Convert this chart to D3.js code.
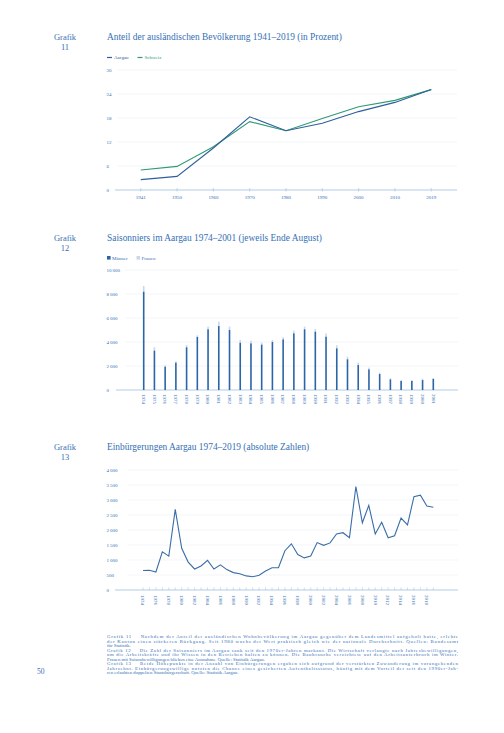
<!DOCTYPE html>
<html>
<head>
<meta charset="utf-8">
<script src="https://cdn.jsdelivr.net/npm/d3@7"></script>
<style>
  body { margin: 0; background: #fff; }
  svg { display: block; font-family: "Liberation Serif", "DejaVu Serif", serif; }
</style>
</head>
<body>
<svg id="page"></svg>
<script>
var width = 504,
    height = 733;

var blue = '#3570b5',
    axisCol = '#a9c5e2',
    gridCol = '#edf2f8';

// Grafik 11
var years11 = ['1941', '1950', '1960', '1970', '1980', '1990', '2000', '2010', '2019'];
var aargau = [2.6, 3.4, 10.5, 18.3, 14.8, 16.7, 19.6, 21.9, 25.1];
var schweiz = [5.0, 5.9, 10.8, 17.1, 14.8, 17.9, 20.8, 22.4, 25.1];
var ticks11 = [0, 6, 12, 18, 24, 30];

// Grafik 12
var years12 = d3.range(1974, 2002).map(String);
var maenner = [8190, 3280, 1940, 2280, 3560, 4420, 5060, 5330, 5000, 3940, 3890, 3780, 4000, 4220,
               4720, 5060, 4860, 4440, 3470, 2560, 2080, 1720, 1330, 890, 750, 750, 830, 920];
var frauen = [480, 280, 120, 110, 190, 140, 220, 360, 280, 230, 220, 160, 170, 170,
              220, 220, 220, 280, 250, 220, 200, 140, 110, 80, 80, 80, 110, 80];
var ticks12 = [0, 2000, 4000, 6000, 8000, 10000];

// Grafik 13
var years13 = d3.range(1974, 2020).map(String);
var einb = [650, 660, 600, 1270, 1130, 2690, 1390, 930, 700, 800, 990, 700, 840, 680, 580, 540,
            470, 440, 490, 630, 740, 740, 1310, 1540, 1180, 1070, 1130, 1580, 1490, 1570, 1870, 1910,
            1740, 3450, 2240, 2820, 1870, 2260, 1740, 1810, 2400, 2170, 3110, 3160, 2800, 2760];
var ticks13 = [0, 500, 1000, 1500, 2000, 2500, 3000, 3500, 4000];

var caption = [
  ['Grafik 11\u2003\u2002Nachdem der Anteil der ausländischen Wohnbevölkerung im Aargau gegenüber dem Landesmittel aufgeholt hatte, erlebte', true],
  ['der Kanton einen stärkeren Rückgang. Seit 1980 wuchs der Wert praktisch gleich wie der nationale Durchschnitt. Quellen: Bundesamt', true],
  ['für Statistik.', false],
  ['Grafik 12\u2003\u2002Die Zahl der Saisonniers im Aargau sank seit den 1970er-Jahren markant. Die Wirtschaft verlangte nach Jahresbewilligungen,', true],
  ['um die Arbeitskräfte und ihr Wissen in den Betrieben halten zu können. Die Baubranche verzichtete auf den Arbeitsunterbruch im Winter.', true],
  ['Frauen mit Saisonbewilligungen blieben eine Ausnahme. Quelle: Statistik Aargau.', false],
  ['Grafik 13\u2003\u2002Beide Höhepunkte in der Anzahl von Einbürgerungen ergaben sich aufgrund der verstärkten Zuwanderung im vorangehenden', true],
  ['Jahrzehnt. Einbürgerungswillige nutzten die Chance eines gesicherten Aufenthaltsstatus, häufig mit dem Vorteil der seit den 1990er-Jah-', true],
  ['ren erlaubten doppelten Staatsbürgerschaft. Quelle: Statistik Aargau.', false]
];

var fmt = function(d) { return d >= 1000 ? d3.format(',')(d).replace(',', '\u2009') : String(d); };

var svg = d3.select('#page')
    .attr('width', width)
    .attr('height', height);

function heading(y, num, title) {
  svg.append('text').text('Grafik')
    .attr('x', 65).attr('y', y)
    .attr('font-size', 8.5).attr('fill', blue)
    .style('text-anchor', 'middle');
  svg.append('text').text(num)
    .attr('x', 65).attr('y', y + 10)
    .attr('font-size', 8.5).attr('fill', blue)
    .style('text-anchor', 'middle');
  svg.append('text').text(title)
    .attr('x', 107).attr('y', y)
    .attr('font-size', 9.4).attr('fill', blue);
}

function yGrid(g, y, ticks, x0, x1) {
  g.selectAll('.grid').data(ticks.filter(function(d) { return d > 0; }))
    .enter().append('line')
    .attr('x1', x0).attr('x2', x1)
    .attr('y1', function(d) { return y(d); })
    .attr('y2', function(d) { return y(d); })
    .attr('stroke', gridCol).attr('stroke-width', 0.8);
  g.selectAll('.ylab').data(ticks)
    .enter().append('text')
    .text(fmt)
    .attr('x', 106.5)
    .attr('y', function(d) { return y(d) + 1.7; })
    .attr('font-size', 5).attr('fill', blue);
}

// ---------- Grafik 11 ----------
heading(40, '11', 'Anteil der ausländischen Bevölkerung 1941\u20132019 (in Prozent)');

var g11 = svg.append('g');
var x11 = d3.scalePoint().domain(years11).range([115, 457]).padding(0.71);
var y11 = d3.scaleLinear().domain([0, 30]).range([190, 70]);

yGrid(g11, y11, ticks11, 117, 457);

g11.append('line')
  .attr('x1', 115).attr('x2', 457).attr('y1', y11(0)).attr('y2', y11(0))
  .attr('stroke', axisCol).attr('stroke-width', 0.9);
g11.selectAll('.tk').data(years11).enter().append('line')
  .attr('x1', function(d) { return x11(d); }).attr('x2', function(d) { return x11(d); })
  .attr('y1', y11(0) - 2).attr('y2', y11(0) + 1.5)
  .attr('stroke', axisCol).attr('stroke-width', 0.7);
g11.selectAll('.xl').data(years11).enter().append('text')
  .text(function(d) { return d; })
  .attr('x', function(d) { return x11(d); })
  .attr('y', y11(0) + 9)
  .attr('font-size', 5).attr('fill', blue)
  .style('text-anchor', 'middle');

var line11 = d3.line()
  .x(function(d, i) { return x11(years11[i]); })
  .y(function(d) { return y11(d); });

g11.append('path').datum(schweiz)
  .attr('d', line11).attr('fill', 'none')
  .attr('stroke', '#2f9a73').attr('stroke-width', 1.1);
g11.append('path').datum(aargau)
  .attr('d', line11).attr('fill', 'none')
  .attr('stroke', '#2d5f9c').attr('stroke-width', 1.1);

var leg11 = [['Aargau', '#2d5f9c', 107], ['Schweiz', '#2f9a73', 137.5]];
leg11.forEach(function(l) {
  svg.append('line').attr('x1', l[2]).attr('x2', l[2] + 5)
    .attr('y1', 57.5).attr('y2', 57.5)
    .attr('stroke', l[1]).attr('stroke-width', 1.2);
  svg.append('text').text(l[0])
    .attr('x', l[2] + 7).attr('y', 59.3)
    .attr('font-size', 5).attr('fill', l[1]);
});

// ---------- Grafik 12 ----------
heading(241, '12', 'Saisonniers im Aargau 1974\u20132001 (jeweils Ende August)');

var g12 = svg.append('g');
var x12 = d3.scalePoint().domain(years12).range([143.7, 433.3]);
var y12 = d3.scaleLinear().domain([0, 10000]).range([390, 270]);

yGrid(g12, y12, ticks12, 125, 458);

g12.append('line')
  .attr('x1', 116).attr('x2', 458).attr('y1', y12(0)).attr('y2', y12(0))
  .attr('stroke', axisCol).attr('stroke-width', 0.9);

var bw = 1.6;
g12.selectAll('.fr').data(years12).enter().append('rect')
  .attr('x', function(d) { return x12(d) - bw / 2; })
  .attr('width', bw)
  .attr('y', function(d, i) { return y12(maenner[i] + frauen[i]); })
  .attr('height', function(d, i) { return y12(maenner[i]) - y12(maenner[i] + frauen[i]); })
  .attr('fill', '#c9d8ea');
g12.selectAll('.ma').data(years12).enter().append('rect')
  .attr('x', function(d) { return x12(d) - bw / 2; })
  .attr('width', bw)
  .attr('y', function(d, i) { return y12(maenner[i]); })
  .attr('height', function(d, i) { return y12(0) - y12(maenner[i]); })
  .attr('fill', '#2b65a8');

g12.selectAll('.xl').data(years12).enter().append('text')
  .text(function(d) { return d; })
  .attr('transform', function(d) { return 'translate(' + (x12(d) - 1.7) + ',' + (y12(0) + 4) + ') rotate(90)'; })
  .attr('font-size', 5).attr('fill', blue);

var leg12 = [['Männer', '#2b65a8', 107], ['Frauen', '#c9d8ea', 136.5]];
leg12.forEach(function(l) {
  svg.append('rect').attr('x', l[2]).attr('y', 256).attr('width', 3.6).attr('height', 3.6)
    .attr('fill', l[1]);
  svg.append('text').text(l[0])
    .attr('x', l[2] + 5).attr('y', 259.6)
    .attr('font-size', 5).attr('fill', blue);
});

// ---------- Grafik 13 ----------
heading(450, '13', 'Einbürgerungen Aargau 1974\u20132019 (absolute Zahlen)');

var g13 = svg.append('g');
var x13 = d3.scalePoint().domain(years13).range([143, 433.3]);
var y13 = d3.scaleLinear().domain([0, 4000]).range([590, 470]);

yGrid(g13, y13, ticks13, 128, 458);

g13.append('line')
  .attr('x1', 115).attr('x2', 458).attr('y1', y13(0)).attr('y2', y13(0))
  .attr('stroke', axisCol).attr('stroke-width', 0.9);
g13.selectAll('.tk').data(years13).enter().append('line')
  .attr('x1', function(d) { return x13(d); }).attr('x2', function(d) { return x13(d); })
  .attr('y1', y13(0) - 2.5).attr('y2', y13(0))
  .attr('stroke', axisCol).attr('stroke-width', 0.6);
g13.selectAll('.xl').data(years13.filter(function(d, i) { return i % 2 === 0; }))
  .enter().append('text')
  .text(function(d) { return d; })
  .attr('transform', function(d) { return 'translate(' + (x13(d) - 1.7) + ',' + (y13(0) + 5) + ') rotate(90)'; })
  .attr('font-size', 5).attr('fill', blue);

g13.append('path').datum(einb)
  .attr('d', d3.line()
    .x(function(d, i) { return x13(years13[i]); })
    .y(function(d) { return y13(d); }))
  .attr('fill', 'none')
  .attr('stroke', '#3a6ea8').attr('stroke-width', 1.1);

// ---------- caption ----------
var cap = svg.append('g');
cap.selectAll('text').data(caption).enter().append('text')
  .text(function(d) { return d[0]; })
  .attr('x', 107)
  .attr('y', function(d, i) { return 638 + i * 4.5; })
  .attr('font-size', 4.8)
  .attr('fill', blue)
  .each(function(d) {
    if (d[1]) d3.select(this).attr('textLength', 351).attr('lengthAdjust', 'spacing');
  });

svg.append('text').text('50')
  .attr('x', 37).attr('y', 674)
  .attr('font-size', 7.5).attr('fill', blue);
</script>
</body>
</html>
